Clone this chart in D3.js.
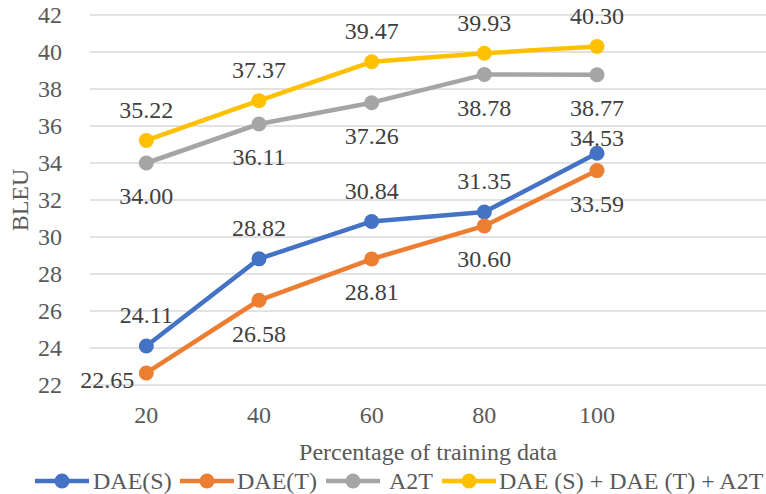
<!DOCTYPE html>
<html>
<head>
<meta charset="utf-8">
<script src="https://cdn.jsdelivr.net/npm/d3@7"></script>
<style>
  body { margin: 0; background: #fff; }
</style>
</head>
<body>
<div id="chart"></div>
<script>
// data
const categories = ["20", "40", "60", "80", "100", ""];
const seriesNames = ["DAE(S)", "DAE(T)", "A2T", "DAE (S) + DAE (T) + A2T"];
const daeS = [24.11, 28.82, 30.84, 31.35, 34.53];
const daeT = [22.65, 26.58, 28.81, 30.60, 33.59];
const a2t = [34.00, 36.11, 37.26, 38.78, 38.77];
const combined = [35.22, 37.37, 39.47, 39.93, 40.30];
const yTicks = [22, 24, 26, 28, 30, 32, 34, 36, 38, 40, 42];

const COLORS = ["#4472C4", "#ED7D31", "#A5A5A5", "#FFC000"];
const FONT = "'Liberation Serif', 'Times New Roman', Tinos, 'DejaVu Serif', serif";
const FS = 24;
// label placement per series point
const PLACE = [
  ["above", "above", "above", "above", "above2"],
  ["left", "below", "below", "below", "below"],
  ["below", "below", "below", "below", "below"],
  ["above", "above", "above", "above", "above"],
];

const WIDTH = 766, HEIGHT = 494;
const MARGIN = { top: 15, right: 0, bottom: 109, left: 90 };

const svg = d3.select("#chart").append("svg")
  .attr("width", WIDTH).attr("height", HEIGHT)
  .attr("font-family", FONT);

const x = d3.scaleBand().domain(categories)
  .range([MARGIN.left, WIDTH - MARGIN.right]);
const y = d3.scaleLinear().domain([22, 42])
  .range([HEIGHT - MARGIN.bottom, MARGIN.top]);
const cx = (i) => x(categories[i]) + x.bandwidth() / 2;

// gridlines
svg.append("g").selectAll("line").data(yTicks).join("line")
  .attr("x1", MARGIN.left).attr("x2", WIDTH - MARGIN.right)
  .attr("y1", (d) => y(d)).attr("y2", (d) => y(d))
  .attr("stroke", "#d9d9d9").attr("stroke-width", 1.5);

// y tick labels
svg.append("g").selectAll("text").data(yTicks).join("text")
  .text((d) => d)
  .attr("x", 62).attr("y", (d) => y(d))
  .attr("dy", "0.35em")
  .attr("text-anchor", "end")
  .attr("font-size", FS).attr("fill", "#595959");

// x tick labels
svg.append("g").selectAll("text").data(categories.filter((c) => c)).join("text")
  .text((d) => d)
  .attr("x", (d, i) => cx(i)).attr("y", 415)
  .attr("dy", "0.35em")
  .attr("text-anchor", "middle")
  .attr("font-size", FS).attr("fill", "#595959");

// axis titles
svg.append("text").text("Percentage of training data")
  .attr("x", 428).attr("y", 452).attr("dy", "0.35em")
  .attr("text-anchor", "middle").attr("font-size", FS).attr("fill", "#595959");
svg.append("text").text("BLEU")
  .attr("transform", "translate(20,200) rotate(-90)")
  .attr("dy", "0.35em")
  .attr("text-anchor", "middle").attr("font-size", FS).attr("fill", "#595959");

// series
const allSeries = [daeS, daeT, a2t, combined];
const line = d3.line().x((d, i) => cx(i)).y((d) => y(d));

allSeries.forEach((vals, s) => {
  const g = svg.append("g");
  g.append("path").datum(vals)
    .attr("d", line).attr("fill", "none")
    .attr("stroke", COLORS[s]).attr("stroke-width", 4.5)
    .attr("stroke-linejoin", "round");
  g.selectAll("circle").data(vals).join("circle")
    .attr("cx", (d, i) => cx(i)).attr("cy", (d) => y(d))
    .attr("r", 7.5).attr("fill", COLORS[s]);
});

// data labels drawn on top
allSeries.forEach((vals, s) => {
  svg.append("g").selectAll("text").data(vals).join("text")
    .text((d) => d.toFixed(2))
    .attr("x", (d, i) => PLACE[s][i] === "left" ? cx(i) - 12 : cx(i))
    .attr("y", (d, i) => {
      const p = PLACE[s][i];
      if (p === "above") return y(d) - 31;
      if (p === "above2") return y(d) - 16;
      if (p === "below") return y(d) + 33;
      return y(d) + 7;
    })
    .attr("dy", "0.35em")
    .attr("text-anchor", (d, i) => PLACE[s][i] === "left" ? "end" : "middle")
    .attr("font-size", FS).attr("fill", "#404040");
});

// legend
const legendItems = [
  { x: 35, tx: 93 },
  { x: 180, tx: 237 },
  { x: 326, tx: 389 },
  { x: 442, tx: 499 },
];
const lg = svg.append("g");
legendItems.forEach((it, s) => {
  const ly = 481;
  lg.append("line")
    .attr("x1", it.x).attr("x2", it.x + 54)
    .attr("y1", ly).attr("y2", ly)
    .attr("stroke", COLORS[s]).attr("stroke-width", 4.5);
  lg.append("circle").attr("cx", it.x + 27).attr("cy", ly)
    .attr("r", 7.5).attr("fill", COLORS[s]);
  lg.append("text").text(seriesNames[s])
    .attr("x", it.tx).attr("y", ly).attr("dy", "0.35em")
    .attr("font-size", FS).attr("fill", "#595959");
});
</script>
</body>
</html>
